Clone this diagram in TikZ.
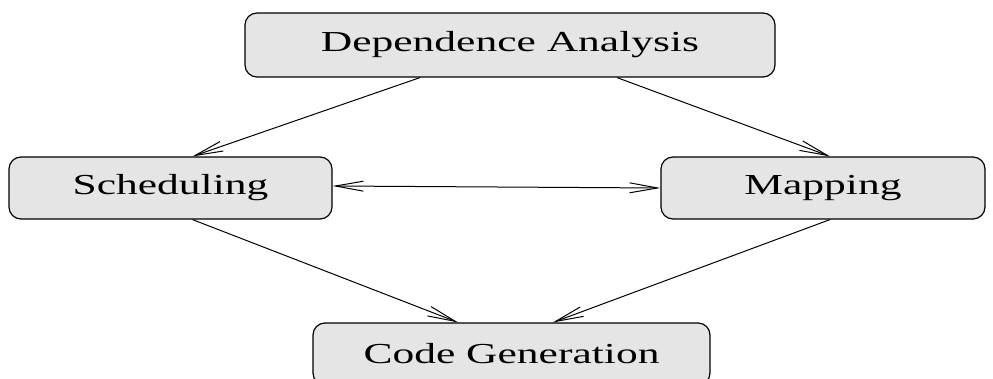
\documentclass[tikz,border=0pt]{standalone}
\usepackage{fontspec}
\setmainfont{Liberation Serif}[FakeStretch=1.5]
\usetikzlibrary{arrows.meta}
\definecolor{boxgray}{RGB}{229,229,229}
\begin{document}
\begin{tikzpicture}[x=0.5pt,y=-0.5pt,
        phase/.style={draw,line width=0.6pt,fill=boxgray,rounded corners=6pt,
            inner sep=0pt,font=\fontsize{14.5}{17}\selectfont},
        flow/.style={line width=0.5pt,-{Straight Barb[length=14pt,width=5pt]}}]
        \useasboundingbox (0,0) rectangle (993,379);
        %% Boxes
        \node[phase,minimum width=265pt,minimum height=32pt] (dep) at (510,45) {Dependence Analysis};
        \node[phase,minimum width=161.5pt,minimum height=31pt] (sched) at (170.5,188) {Scheduling};
        \node[phase,minimum width=162pt,minimum height=31pt] (map) at (823,188) {Mapping};
        \node[phase,minimum width=198.5pt,minimum height=31pt] (code) at (511.5,354) {Code Generation};
        %% Arrows
        \draw[flow] ([xshift=-45pt]dep.south) -- ([xshift=11pt]sched.north);
        \draw[flow] ([xshift=53.5pt]dep.south) -- ([xshift=3.5pt]map.north);
        \draw[flow,{Straight Barb[length=14pt,width=5pt]}-{Straight Barb[length=14pt,width=5pt]}] ([yshift=1pt]sched.east) -- (map.west);
        \draw[flow] ([xshift=11pt]sched.south) -- ([xshift=-26.75pt]code.north);
        \draw[flow] ([xshift=3.5pt]map.south) -- ([xshift=20.75pt]code.north);
\end{tikzpicture}
\end{document}
